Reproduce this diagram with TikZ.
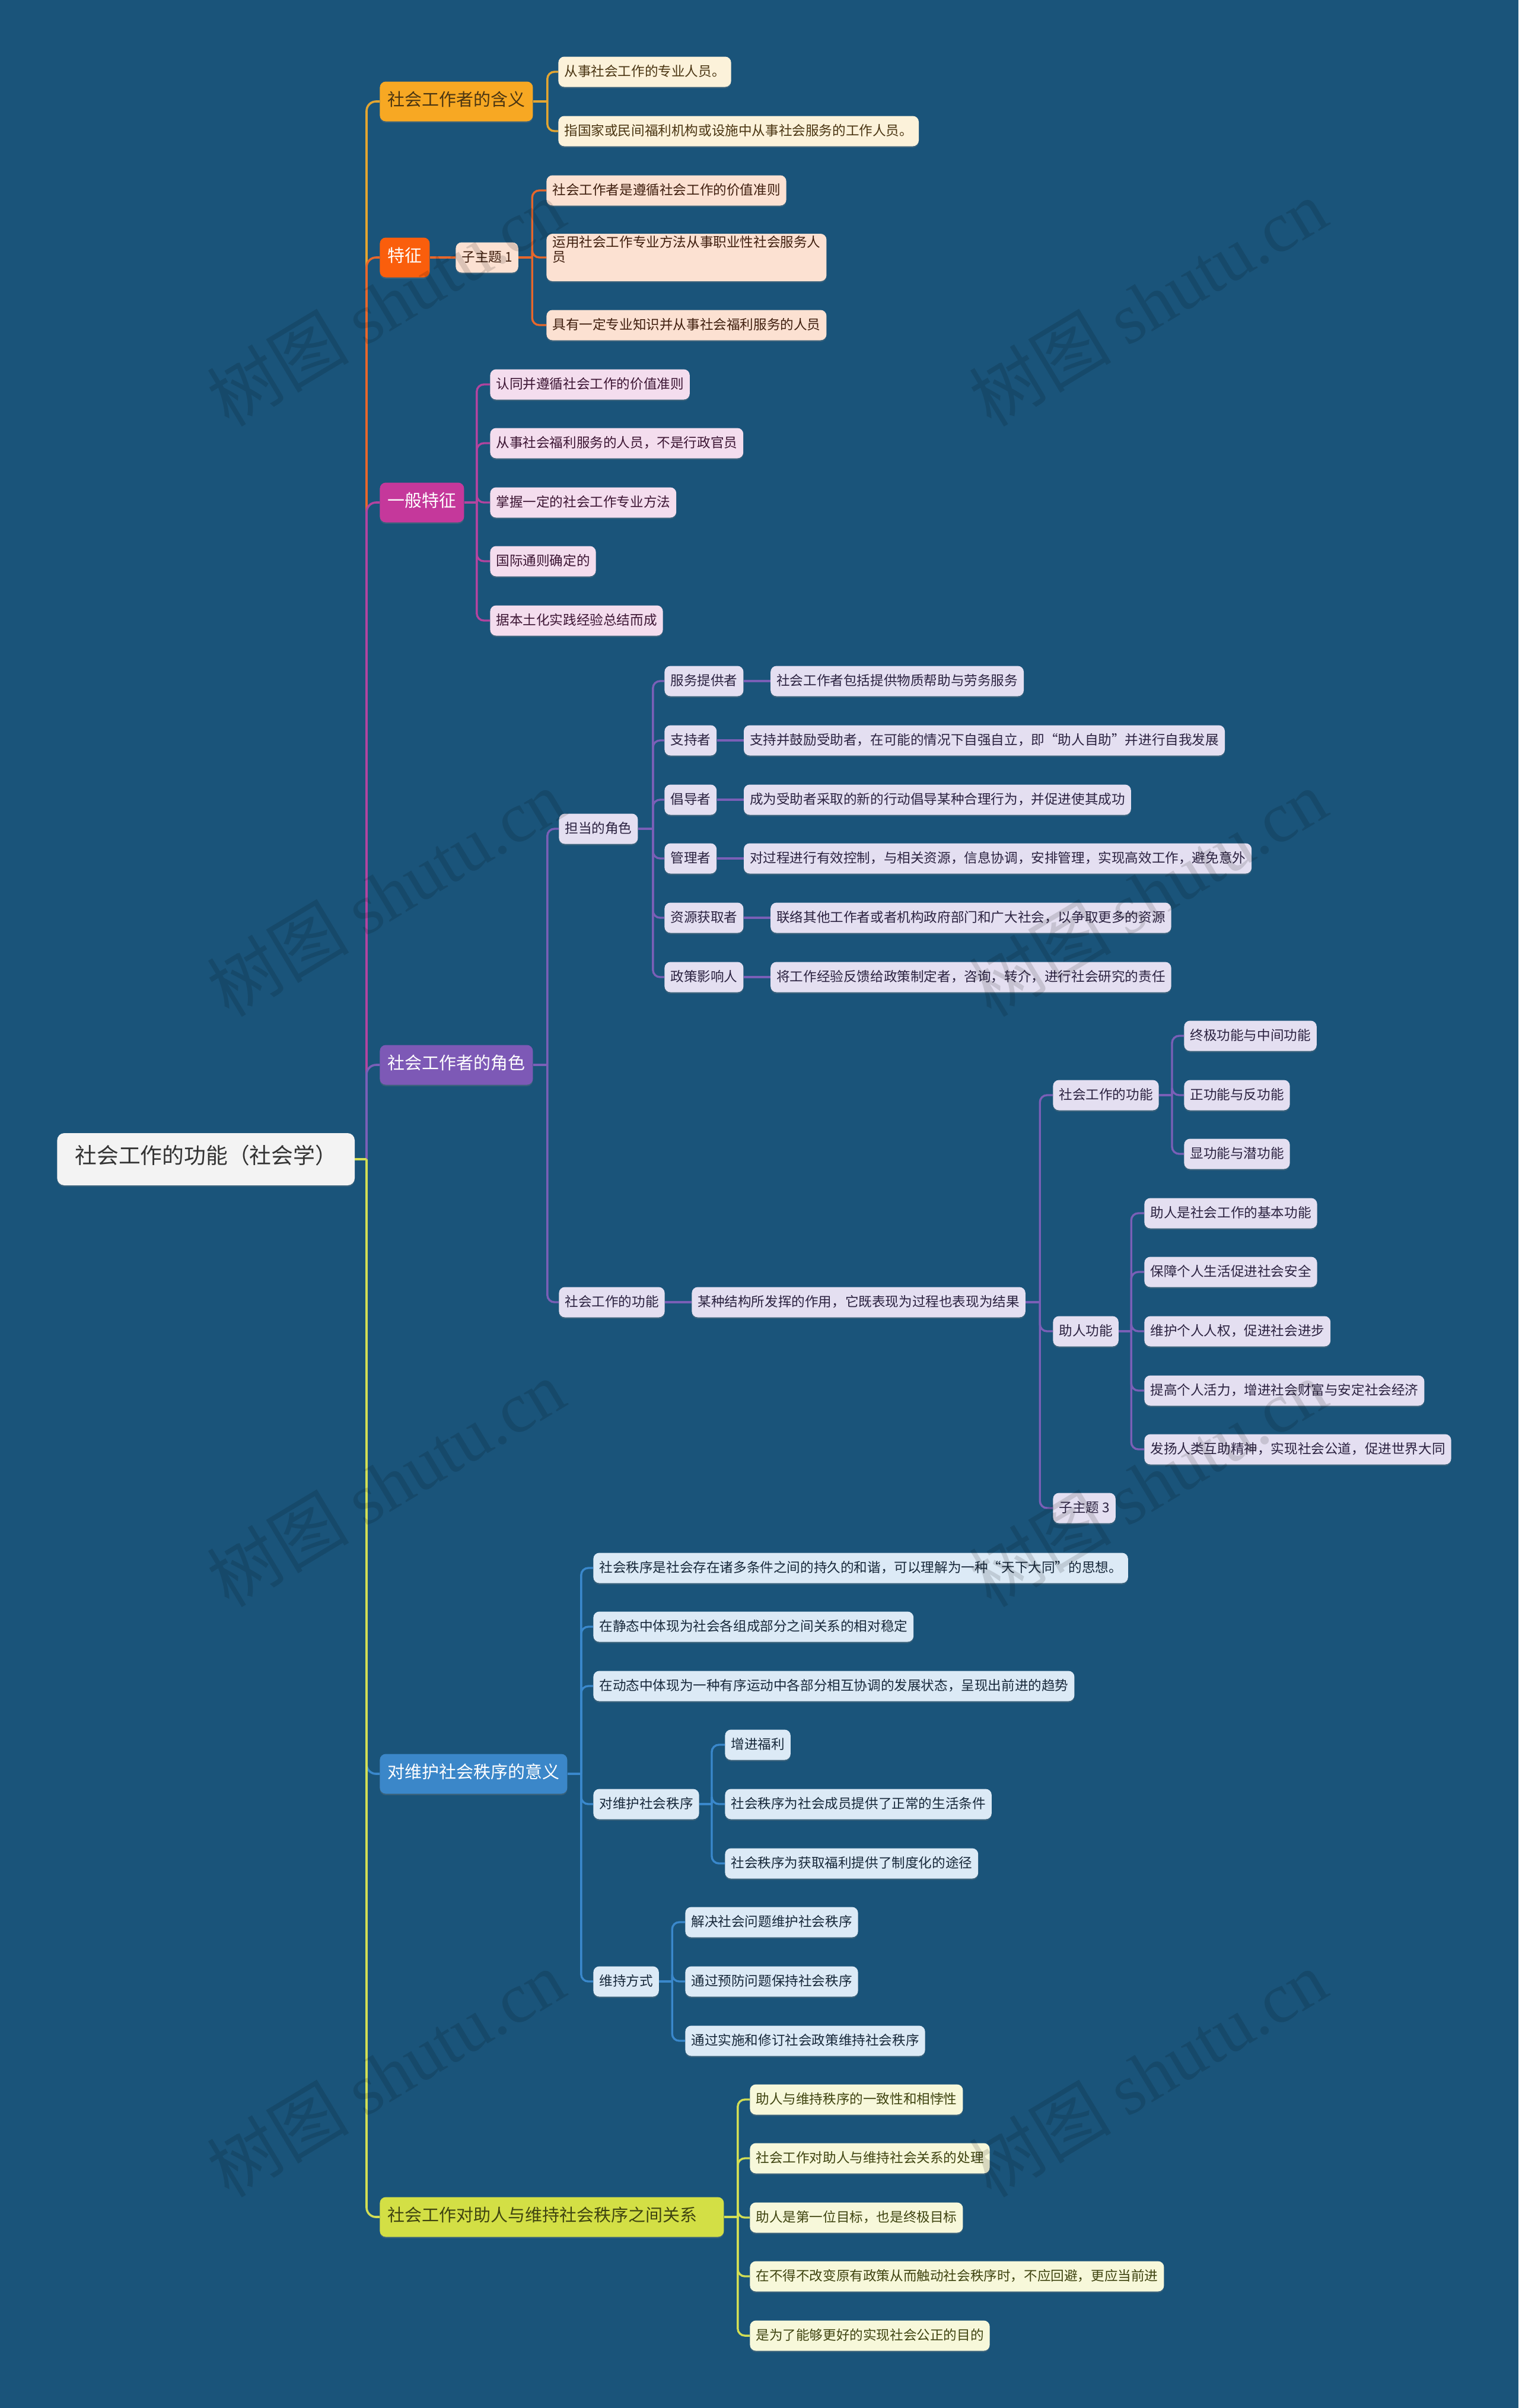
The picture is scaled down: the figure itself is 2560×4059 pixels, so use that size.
\documentclass[tikz,border=0pt]{standalone}
\usepackage{fontspec}
\setmainfont{Noto Sans CJK SC}
\newfontfamily\wmfont{Liberation Serif}
\usepackage{tikz}
\usetikzlibrary{positioning, shadows}

% 配色
\definecolor{bgblue}{HTML}{1A547A}
\definecolor{rootfill}{HTML}{F3F3F3}
\definecolor{roottext}{HTML}{333333}
\definecolor{hanyicol}{HTML}{F7A823}
\definecolor{hanyiline}{HTML}{E3A531}
\definecolor{hanyifill}{HTML}{FCF2DA}
\definecolor{hanyitext}{HTML}{4A3512}
\definecolor{tezcol}{HTML}{FA5E0C}
\definecolor{tezline}{HTML}{E7672B}
\definecolor{tezfill}{HTML}{FCE1D2}
\definecolor{teztext}{HTML}{3F1E0E}
\definecolor{ybcol}{HTML}{C5389B}
\definecolor{ybline}{HTML}{B2449F}
\definecolor{ybfill}{HTML}{F4DDEE}
\definecolor{ybtext}{HTML}{3C1533}
\definecolor{jscol}{HTML}{7D59B6}
\definecolor{jsline}{HTML}{7A5FB7}
\definecolor{jsfill}{HTML}{E4DFF1}
\definecolor{jstext}{HTML}{2B2240}
\definecolor{zxcol}{HTML}{3B87C9}
\definecolor{zxline}{HTML}{3A88CC}
\definecolor{zxfill}{HTML}{DCEAF6}
\definecolor{zxtext}{HTML}{17283A}
\definecolor{gxcol}{HTML}{D3DF45}
\definecolor{gxline}{HTML}{D2DE55}
\definecolor{gxfill}{HTML}{F7F8DA}
\definecolor{gxtext}{HTML}{3F4410}

\tikzset{
  box/.style={anchor=west, rounded corners=5pt, inner ysep=1pt,
    text height=0.88em, text depth=0.12em,
    drop shadow={shadow xshift=0pt, shadow yshift=-1.2pt, opacity=0.3}},
  rootbox/.style={box, fill=rootfill, text=roottext, rounded corners=6pt,
    font=\fontsize{18.4}{22}\selectfont, inner xsep=15pt, minimum height=44pt},
  mainbox/.style={box, text=white, font=\fontsize{14.5}{17}\selectfont,
    inner xsep=6.5pt, minimum height=33.5pt},
  subbox/.style={box, font=\fontsize{11.3}{12.5}\selectfont,
    inner xsep=5pt, minimum height=25.5pt},
  hyleaf/.style={subbox, fill=hanyifill, text=hanyitext},
  tzleaf/.style={subbox, fill=tezfill, text=teztext},
  ybleaf/.style={subbox, fill=ybfill, text=ybtext},
  jsleaf/.style={subbox, fill=jsfill, text=jstext},
  zxleaf/.style={subbox, fill=zxfill, text=zxtext},
  gxleaf/.style={subbox, fill=gxfill, text=gxtext},
  trunk/.style={line width=1.8pt, rounded corners=8pt},
  conn/.style={line width=1.7pt, rounded corners=6pt},
  watermark/.style={rotate=31, text=black, text opacity=0.13,
    font=\fontsize{60}{60}\selectfont}
}

\begin{document}
\begin{tikzpicture}[x=0.5pt, y=-0.5pt]
% 背景
\fill[bgblue] (0,0) rectangle (2560,4059);
\useasboundingbox (0,0) rectangle (2560,4059);

% ========== 中心主题 ==========
\node[rootbox] (root) at (96,1954) {社会工作的功能（社会学）};
\coordinate (hub) at (618,1954);

% ========== 一级分支 ==========
\node[mainbox, fill=hanyicol, text=hanyitext] (hanyi) at (640,171) {社会工作者的含义};
\node[mainbox, fill=tezcol] (tez) at (640,434) {特征};
\node[mainbox, fill=ybcol] (yb) at (640,847) {一般特征};
\node[mainbox, fill=jscol] (js) at (640,1795) {社会工作者的角色};
\node[mainbox, fill=zxcol] (zx) at (640,2990) {对维护社会秩序的意义};
\node[mainbox, fill=gxcol, text=gxtext, text width=277pt, align=left] (gx) at (640,3737)
  {社会工作对助人与维持社会秩序之间关系};

% 主干（后画的覆盖先画的）
\foreach \m/\col in {hanyi/hanyiline, tez/tezline, yb/ybline, js/jsline, zx/zxline, gx/gxline}
  \draw[trunk, draw=\col] (hub) |- (\m.west);
\draw[trunk, draw=gxline] (root.east) -- (hub);

% ========== 社会工作者的含义 ==========
\node[hyleaf] (hy1) at (941,121) {从事社会工作的专业人员。};
\node[hyleaf] (hy2) at (941,221) {指国家或民间福利机构或设施中从事社会服务的工作人员。};
\path (hanyi.east) ++(24,0) coordinate (hanyiHub);
\draw[conn, hanyiline] (hanyi.east) -- (hanyiHub);
\foreach \c in {hy1,hy2}
  \draw[conn, hanyiline] (hanyiHub) |- (\c.west);

% ========== 特征 ==========
\node[tzleaf] (zt1) at (768,434) {子主题 1};
\draw[conn, tezline] (tez.east) -- (zt1.west);
\node[tzleaf] (tz1) at (921,321) {社会工作者是遵循社会工作的价值准则};
\node[tzleaf, align=left, minimum height=40pt] (tz2) at (921,434)
  {运用社会工作专业方法从事职业性社会服务人\\员};
\node[tzleaf] (tz3) at (921,548) {具有一定专业知识并从事社会福利服务的人员};
\path (zt1.east) ++(23,0) coordinate (zt1Hub);
\draw[conn, tezline] (zt1.east) -- (zt1Hub);
\foreach \c in {tz1,tz2,tz3}
  \draw[conn, tezline] (zt1Hub) |- (\c.west);

% ========== 一般特征 ==========
\node[ybleaf] (yb1) at (826,648) {认同并遵循社会工作的价值准则};
\node[ybleaf] (yb2) at (826,747) {从事社会福利服务的人员，不是行政官员};
\node[ybleaf] (yb3) at (826,847) {掌握一定的社会工作专业方法};
\node[ybleaf] (yb4) at (826,946) {国际通则确定的};
\node[ybleaf] (yb5) at (826,1046) {据本土化实践经验总结而成};
\path (yb.east) ++(21,0) coordinate (ybHub);
\draw[conn, ybline] (yb.east) -- (ybHub);
\foreach \c in {yb1,yb2,yb3,yb4,yb5}
  \draw[conn, ybline] (ybHub) |- (\c.west);

% ========== 社会工作者的角色 ==========
\node[jsleaf] (dd) at (942,1397) {担当的角色};
\node[jsleaf] (gn) at (942,2195) {社会工作的功能};
\path (js.east) ++(24,0) coordinate (jsHub);
\draw[conn, jsline] (js.east) -- (jsHub);
\foreach \c in {dd,gn}
  \draw[conn, jsline] (jsHub) |- (\c.west);

% 担当的角色
\node[jsleaf] (r1) at (1120,1148) {服务提供者};
\node[jsleaf] (r2) at (1120,1248) {支持者};
\node[jsleaf] (r3) at (1120,1348) {倡导者};
\node[jsleaf] (r4) at (1120,1447) {管理者};
\node[jsleaf] (r5) at (1120,1547) {资源获取者};
\node[jsleaf] (r6) at (1120,1647) {政策影响人};
\path (dd.east) ++(25,0) coordinate (ddHub);
\draw[conn, jsline] (dd.east) -- (ddHub);
\foreach \c in {r1,r2,r3,r4,r5,r6}
  \draw[conn, jsline] (ddHub) |- (\c.west);

\node[jsleaf, right=22.5pt of r1] (d1) {社会工作者包括提供物质帮助与劳务服务};
\node[jsleaf, right=22.5pt of r2] (d2) {支持并鼓励受助者，在可能的情况下自强自立，即“助人自助”并进行自我发展};
\node[jsleaf, right=22.5pt of r3] (d3) {成为受助者采取的新的行动倡导某种合理行为，并促进使其成功};
\node[jsleaf, right=22.5pt of r4] (d4) {对过程进行有效控制，与相关资源，信息协调，安排管理，实现高效工作，避免意外};
\node[jsleaf, right=22.5pt of r5] (d5) {联络其他工作者或者机构政府部门和广大社会，以争取更多的资源};
\node[jsleaf, right=22.5pt of r6] (d6) {将工作经验反馈给政策制定者，咨询，转介，进行社会研究的责任};
\foreach \i in {1,...,6}
  \draw[conn, jsline] (r\i.east) -- (d\i.west);

% 社会工作的功能
\node[jsleaf, right=22.5pt of gn] (gnd) {某种结构所发挥的作用，它既表现为过程也表现为结果};
\draw[conn, jsline] (gn.east) -- (gnd.west);
\node[jsleaf] (f1) at (1775,1846) {社会工作的功能};
\node[jsleaf] (f2) at (1775,2244) {助人功能};
\node[jsleaf] (f3) at (1775,2542) {子主题 3};
\path (gnd.east) ++(24,0) coordinate (gndHub);
\draw[conn, jsline] (gnd.east) -- (gndHub);
\foreach \c in {f1,f2,f3}
  \draw[conn, jsline] (gndHub) |- (\c.west);

\node[jsleaf] (fa) at (1996,1746) {终极功能与中间功能};
\node[jsleaf] (fb) at (1996,1846) {正功能与反功能};
\node[jsleaf] (fc) at (1996,1945) {显功能与潜功能};
\path (f1.east) ++(22,0) coordinate (f1Hub);
\draw[conn, jsline] (f1.east) -- (f1Hub);
\foreach \c in {fa,fb,fc}
  \draw[conn, jsline] (f1Hub) |- (\c.west);

\node[jsleaf] (h1) at (1929,2045) {助人是社会工作的基本功能};
\node[jsleaf] (h2) at (1929,2144) {保障个人生活促进社会安全};
\node[jsleaf] (h3) at (1929,2244) {维护个人人权，促进社会进步};
\node[jsleaf] (h4) at (1929,2344) {提高个人活力，增进社会财富与安定社会经济};
\node[jsleaf] (h5) at (1929,2443) {发扬人类互助精神，实现社会公道，促进世界大同};
\path (f2.east) ++(21,0) coordinate (f2Hub);
\draw[conn, jsline] (f2.east) -- (f2Hub);
\foreach \c in {h1,h2,h3,h4,h5}
  \draw[conn, jsline] (f2Hub) |- (\c.west);

% ========== 对维护社会秩序的意义 ==========
\node[zxleaf] (z1) at (1000,2643) {社会秩序是社会存在诸多条件之间的持久的和谐，可以理解为一种“天下大同”的思想。};
\node[zxleaf] (z2) at (1000,2742) {在静态中体现为社会各组成部分之间关系的相对稳定};
\node[zxleaf] (z3) at (1000,2842) {在动态中体现为一种有序运动中各部分相互协调的发展状态，呈现出前进的趋势};
\node[zxleaf] (z4) at (1000,3041) {对维护社会秩序};
\node[zxleaf] (z5) at (1000,3340) {维持方式};
\path (zx.east) ++(23,0) coordinate (zxHub);
\draw[conn, zxline] (zx.east) -- (zxHub);
\foreach \c in {z1,z2,z3,z4,z5}
  \draw[conn, zxline] (zxHub) |- (\c.west);

\node[zxleaf] (w1) at (1222,2941) {增进福利};
\node[zxleaf] (w2) at (1222,3041) {社会秩序为社会成员提供了正常的生活条件};
\node[zxleaf] (w3) at (1222,3141) {社会秩序为获取福利提供了制度化的途径};
\path (z4.east) ++(21,0) coordinate (z4Hub);
\draw[conn, zxline] (z4.east) -- (z4Hub);
\foreach \c in {w1,w2,w3}
  \draw[conn, zxline] (z4Hub) |- (\c.west);

\node[zxleaf] (m1) at (1155,3240) {解决社会问题维护社会秩序};
\node[zxleaf] (m2) at (1155,3340) {通过预防问题保持社会秩序};
\node[zxleaf] (m3) at (1155,3440) {通过实施和修订社会政策维持社会秩序};
\path (z5.east) ++(22,0) coordinate (z5Hub);
\draw[conn, zxline] (z5.east) -- (z5Hub);
\foreach \c in {m1,m2,m3}
  \draw[conn, zxline] (z5Hub) |- (\c.west);

% ========== 助人与维持社会秩序之间关系 ==========
\node[gxleaf] (g1) at (1264,3539) {助人与维持秩序的一致性和相悖性};
\node[gxleaf] (g2) at (1264,3638) {社会工作对助人与维持社会关系的处理};
\node[gxleaf] (g3) at (1264,3738) {助人是第一位目标，也是终极目标};
\node[gxleaf] (g4) at (1264,3837) {在不得不改变原有政策从而触动社会秩序时，不应回避，更应当前进};
\node[gxleaf] (g5) at (1264,3937) {是为了能够更好的实现社会公正的目的};
\path (gx.east) ++(23,0) coordinate (gxHub);
\draw[conn, gxline] (gx.east) -- (gxHub);
\foreach \c in {g1,g2,g3,g4,g5}
  \draw[conn, gxline] (gxHub) |- (\c.west);

% ========== 水印 ==========
\foreach \k in {0,1,2,3} {
  \node[watermark] (wmL\k) at (650,510+995*\k) {树图 {\wmfont shutu.cn}};
  \node[watermark] (wmR\k) at (1935,510+995*\k) {树图 {\wmfont shutu.cn}};
}

\end{tikzpicture}
\end{document}
